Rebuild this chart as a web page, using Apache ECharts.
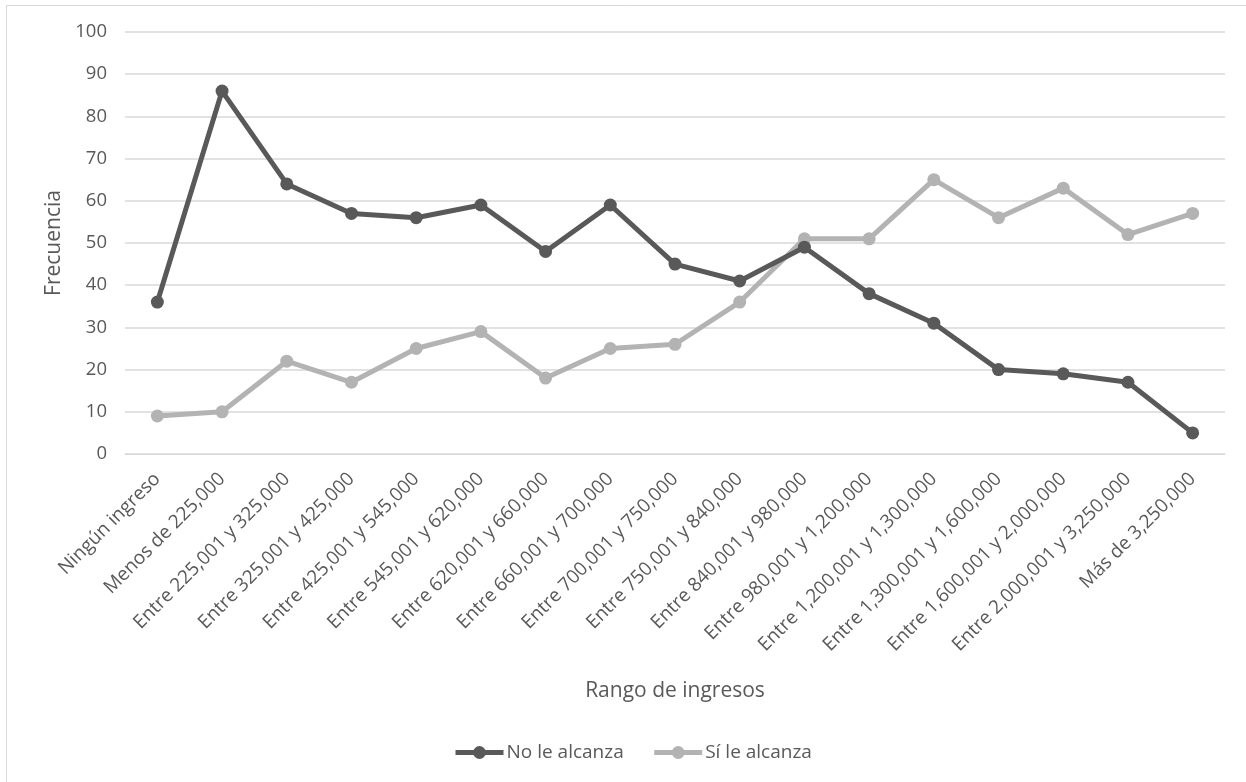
<!DOCTYPE html>
<html>
<head>
<meta charset="utf-8">
<script src="https://cdn.jsdelivr.net/npm/echarts@6/dist/echarts.min.js"></script>
<style>html,body{margin:0;padding:0;background:#fff;}#c{width:1246px;height:782px;}</style>
</head>
<body>
<div id="c"></div>
<script>
const categories = ["Ningún ingreso","Menos de 225,000","Entre 225,001 y 325,000","Entre 325,001 y 425,000","Entre 425,001 y 545,000","Entre 545,001 y 620,000","Entre 620,001 y 660,000","Entre 660,001 y 700,000","Entre 700,001 y 750,000","Entre 750,001 y 840,000","Entre 840,001 y 980,000","Entre 980,001 y 1,200,000","Entre 1,200,001 y 1,300,000","Entre 1,300,001 y 1,600,000","Entre 1,600,001 y 2,000,000","Entre 2,000,001 y 3,250,000","Más de 3,250,000"];
const noLeAlcanza = [36,86,64,57,56,59,48,59,45,41,49,38,31,20,19,17,5];
const siLeAlcanza = [9,10,22,17,25,29,18,25,26,36,51,51,65,56,63,52,57];
const seriesNames = ["No le alcanza","Sí le alcanza"];
const yTitle = "Frecuencia";
const xTitle = "Rango de ingresos";

const FONT = "Open Sans";
const TXT = "#595959";
const chart = echarts.init(document.getElementById('c'), null, {renderer:'canvas'});
chart.setOption({
  backgroundColor:'#fff',
  animation:false,
  textStyle:{fontFamily:FONT},
  graphic:[{type:'rect',shape:{x:6.5,y:5.5,width:1300,height:900},style:{fill:'none',stroke:'#d9d9d9',lineWidth:1},silent:true}],
  grid:{left:125,right:21,top:32,bottom:328,containLabel:false},
  legend:{
    data:seriesNames, left:448, top:738, itemWidth:48, itemHeight:16, itemGap:28,
    lineStyle:{width:5},
    textStyle:{color:TXT,fontSize:19,fontFamily:FONT,padding:[0,0,0,-2]}
  },
  xAxis:{
    type:'category', data:categories, boundaryGap:true,
    name:xTitle, nameLocation:'middle', nameGap:227,
    nameTextStyle:{color:TXT,fontSize:21,fontFamily:FONT},
    axisLine:{show:true,lineStyle:{color:'#d9d9d9',width:1}},
    axisTick:{show:false},
    axisLabel:{rotate:45,interval:0,color:TXT,fontSize:19,fontFamily:FONT,margin:22}
  },
  yAxis:{
    type:'value', min:0, max:100, interval:10,
    name:yTitle, nameLocation:'middle', nameGap:60,
    nameTextStyle:{color:TXT,fontSize:21,fontFamily:FONT},
    axisLine:{show:false}, axisTick:{show:false},
    axisLabel:{color:TXT,fontSize:18.5,fontFamily:FONT,margin:18},
    splitLine:{lineStyle:{color:'#d9d9d9',width:1.5}}
  },
  series:[
    {name:seriesNames[0],type:'line',data:noLeAlcanza,symbol:'circle',symbolSize:13,
     lineStyle:{color:'#595959',width:5},itemStyle:{color:'#595959'},z:3},
    {name:seriesNames[1],type:'line',data:siLeAlcanza,symbol:'circle',symbolSize:13,
     lineStyle:{color:'#b3b3b3',width:5},itemStyle:{color:'#b3b3b3'},z:2}
  ]
});
</script>
</body>
</html>
